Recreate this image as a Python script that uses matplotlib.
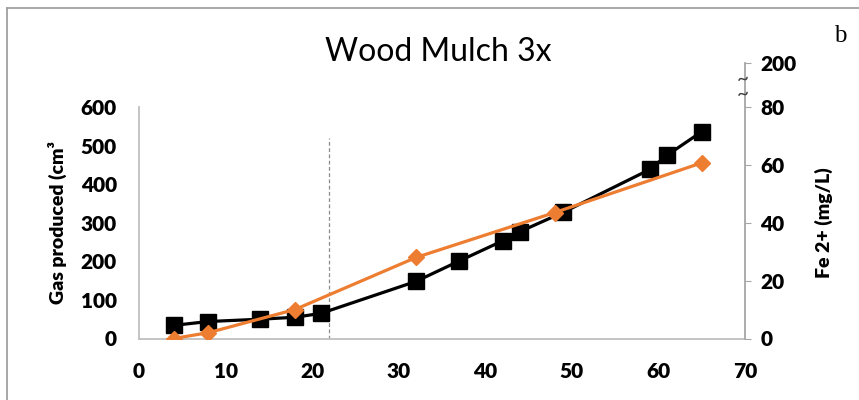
import matplotlib.pyplot as plt
from matplotlib.lines import Line2D

plt.rcParams['font.family'] = ['Lato', 'DejaVu Sans']

# gas produced (left axis)
gas_day = [4, 8, 14, 18, 21, 32, 37, 42, 44, 49, 59, 61, 65]
gas_vol = [34, 44, 50, 55, 65, 148, 201, 253, 277, 327, 438, 475, 536]

# Fe 2+ (right axis)
fe_day = [4, 8, 18, 32, 48, 65]
fe_conc = [0, 2, 10, 28, 43.5, 60.7]

x_ticks = [0, 10, 20, 30, 40, 50, 60, 70]
left_ticks = [0, 100, 200, 300, 400, 500, 600]
right_ticks = [0, 20, 40, 60, 80]
break_label = '200'
marker_day = 22

fig = plt.figure(figsize=(8.59, 4), dpi=100)
ax = fig.add_axes([139 / 859, 61.5 / 400, 606 / 859, 275.5 / 400])
ax2 = ax.twinx()

ax.set_xlim(0, 70)
ax.set_ylim(0, 714)
ax2.set_ylim(0, 95.2)

ax.plot(gas_day, gas_vol, color='black', lw=2.3, marker='s', ms=11.5, zorder=3)
ax2.plot(fe_day, fe_conc, color='#ED7D31', lw=2.3, marker='D', ms=8.5, zorder=4)
ax.vlines(marker_day, 0, 520, colors='#8C8C8C', linestyles=(0, (3, 2)), lw=0.9)

grey = '#BFBFBF'
for s in ['top', 'right']:
    ax.spines[s].set_visible(False)
ax.spines['left'].set_bounds(0, 600)
ax.spines['left'].set_color(grey)
ax.spines['bottom'].set_color(grey)
ax.spines['left'].set_linewidth(1.3)
ax.spines['bottom'].set_linewidth(1.3)
for s in ['top', 'left', 'bottom']:
    ax2.spines[s].set_visible(False)
ax2.spines['right'].set_bounds(0, 95.2)
ax2.spines['right'].set_color('#A6A6A6')
ax2.spines['right'].set_linewidth(1.3)

ax.set_xticks(x_ticks)
ax.set_yticks(left_ticks)
ax.tick_params(axis='x', length=0, labelsize=15, pad=17)
ax.tick_params(axis='y', length=0, labelsize=15, pad=16)
for lab in ax.get_xticklabels() + ax.get_yticklabels():
    lab.set_fontweight('heavy')

ax2.set_yticks(right_ticks + [95.2])
ax2.set_yticklabels([str(t) for t in right_ticks] + [break_label])
ax2.tick_params(axis='y', length=4, color='#A6A6A6', labelsize=15, pad=7)
for lab in ax2.get_yticklabels():
    lab.set_fontweight('heavy')

fig.text(57 / 859, 1 - 222 / 400, 'Gas produced (cm³', rotation=90, ha='center', va='center',
         fontsize=14, fontweight='heavy')
fig.text(824 / 859, 1 - 223 / 400, 'Fe 2+ (mg/L)', rotation=90, ha='center', va='center',
         fontsize=14, fontweight='heavy')
fig.text(438 / 859, 1 - 52 / 400, 'Wood Mulch 3x', ha='center', va='center', fontsize=23)
fig.text(840 / 859, 1 - 36 / 400, 'b', ha='center', va='center', fontsize=18,
         family='Liberation Serif')

# axis break marks
fig.text(743 / 859, 1 - 87 / 400, '~\n~', ha='center', va='center', fontsize=15,
         linespacing=0.7, color='#404040')

# outer frame
fig.add_artist(Line2D([6.5 / 859, 1], [1 - 7.5 / 400] * 2, color='#A0A0A0', lw=1.3))
fig.add_artist(Line2D([6.5 / 859] * 2, [0, 1 - 7.5 / 400], color='#A0A0A0', lw=1.3))

fig.savefig('out.png', dpi=100)
